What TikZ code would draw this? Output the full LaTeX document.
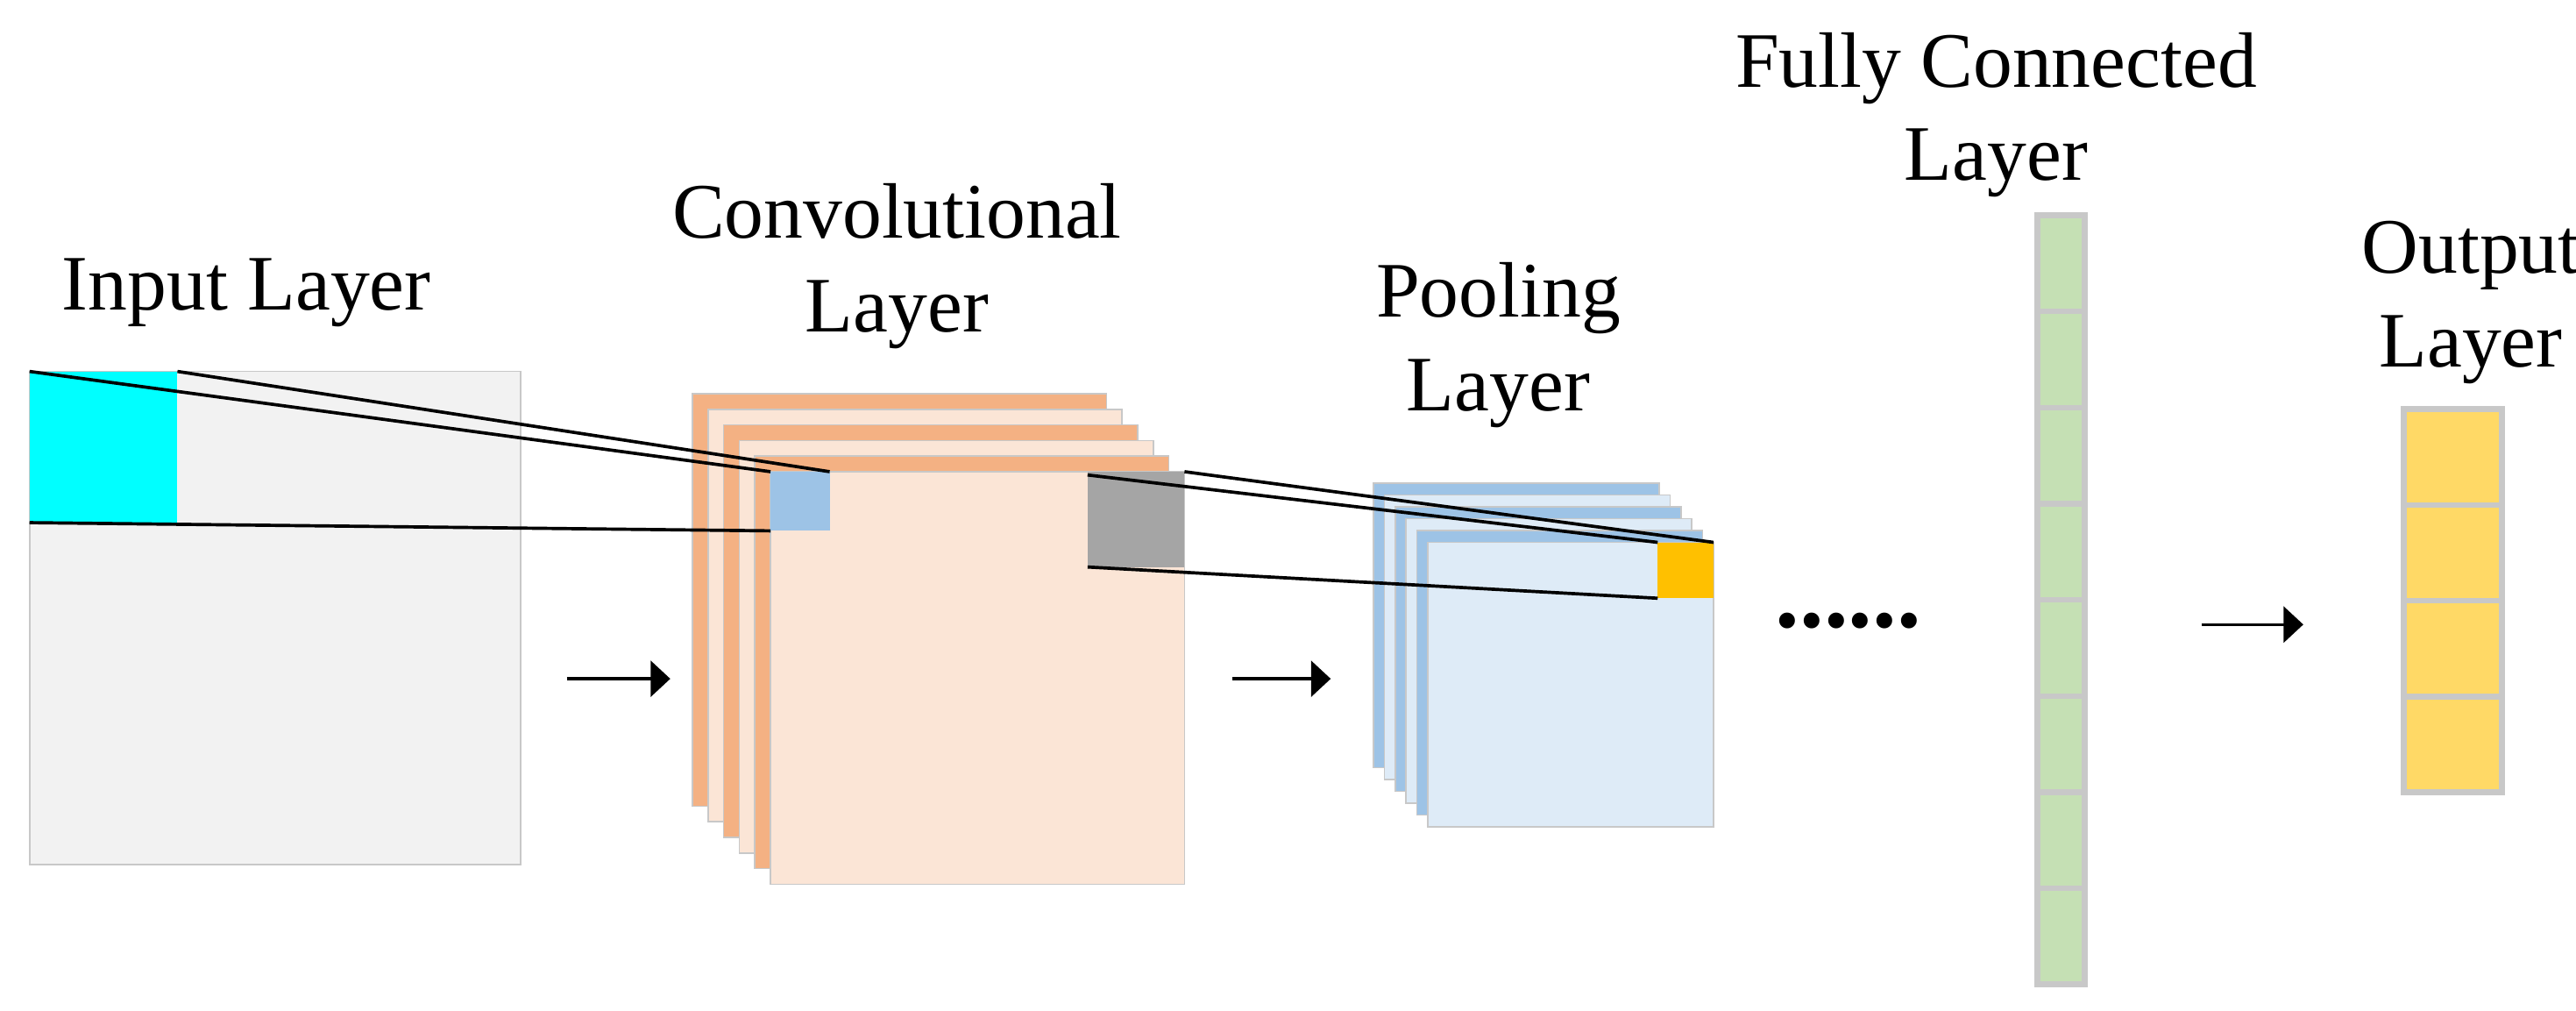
\documentclass[tikz,border=0pt]{standalone}
\usepackage{fontspec}
\setmainfont{Liberation Serif}
\usetikzlibrary{arrows.meta}
\definecolor{inbg}{HTML}{F2F2F2}
\definecolor{cyanf}{HTML}{00FFFF}
\definecolor{orD}{HTML}{F4B183}
\definecolor{orL}{HTML}{FBE5D6}
\definecolor{blD}{HTML}{9DC3E6}
\definecolor{blL}{HTML}{DEEBF7}
\definecolor{grayf}{HTML}{A5A5A5}
\definecolor{yelD}{HTML}{FFC000}
\definecolor{grn}{HTML}{C5E0B4}
\definecolor{yelL}{HTML}{FFD966}
\definecolor{bord}{HTML}{C8C8C8}
\begin{document}
\begin{tikzpicture}[x=0.5mm,y=-0.5mm,
  lab/.style={font=\fontsize{68}{81}\selectfont,align=center,inner sep=0},
  sheet/.style={draw=bord,line width=1.2pt},
  cell/.style={draw=bord,line width=5pt},
  link/.style={draw=black,line width=2.8pt},
  flow/.style={draw=black,line width=2.5pt,-{Triangle[length=17pt,width=31pt]}}]
\useasboundingbox (0,0) rectangle (1568,615);
% labels
\node[lab] (tin) at (150,178) {Input Layer};
\node[lab] (tconv) at (546,162) {Convolutional\\Layer};
\node[lab] (tpool) at (912,210) {Pooling\\Layer};
\node[lab] (tfc) at (1215,70) {Fully Connected\\Layer};
\node[lab] (tout) at (1504,184) {Output\\Layer};
% input
\draw[sheet,fill=inbg] (18,226) rectangle (317,526);
\fill[cyanf] (18,226) rectangle (108,318);
\coordinate (c1) at (18,226); \coordinate (c2) at (108,226); \coordinate (c3) at (18,318);
% conv stack
\foreach \i/\c in {5/orD,4/orL,3/orD,2/orL,1/orD,0/orL}{
  \draw[sheet,fill=\c] ({469-9.5*\i},{287-9.5*\i}) rectangle ({721-9.5*\i},{538-9.5*\i});
}
\fill[blD] (469,287) rectangle (505,323);
\fill[grayf] (662,287) rectangle (721,345);
\coordinate (b1) at (469,287); \coordinate (b2) at (505,287); \coordinate (b3) at (469,323);
\coordinate (g1) at (662,289); \coordinate (g2) at (721,287); \coordinate (g3) at (662,345);
% pooling stack
\foreach \i/\c in {5/blD,4/blL,3/blD,2/blL,1/blD,0/blL}{
  \draw[sheet,fill=\c] ({869-6.6*\i},{330-7.2*\i}) rectangle ({1043-6.6*\i},{503-7.2*\i});
}
\fill[yelD] (1009,330) rectangle (1043,364);
\coordinate (y1) at (1009,330); \coordinate (y2) at (1043,330); \coordinate (y3) at (1009,364);
% links
\draw[link] (c1) -- (b1);
\draw[link] (c2) -- (b2);
\draw[link] (c3) -- (b3);
\draw[link] (g1) -- (y1);
\draw[link] (g2) -- (y2);
\draw[link] (g3) -- (y3);
% arrows
\coordinate (a1s) at (345,413); \coordinate (a1e) at (408,413);
\coordinate (a2s) at (750,413); \coordinate (a2e) at (810,413);
\coordinate (a3s) at (1340,380); \coordinate (a3e) at (1402,380);
\draw[flow] (a1s) -- (a1e);
\draw[flow] (a2s) -- (a2e);
\draw[flow] (a3s) -- (a3e);
\node[font=\bfseries\fontsize{84}{90}\selectfont,inner sep=0] (dots) at (1125,378) {......};
% FC column
\foreach \k in {0,...,7}{
  \draw[cell,fill=grn] (1240,{131+58.5*\k}) rectangle (1269,{131+58.5*(\k+1)});
}
% output column
\foreach \k in {0,...,3}{
  \draw[cell,fill=yelL] (1463,{249+58.25*\k}) rectangle (1523,{249+58.25*(\k+1)});
}
\end{tikzpicture}
\end{document}
